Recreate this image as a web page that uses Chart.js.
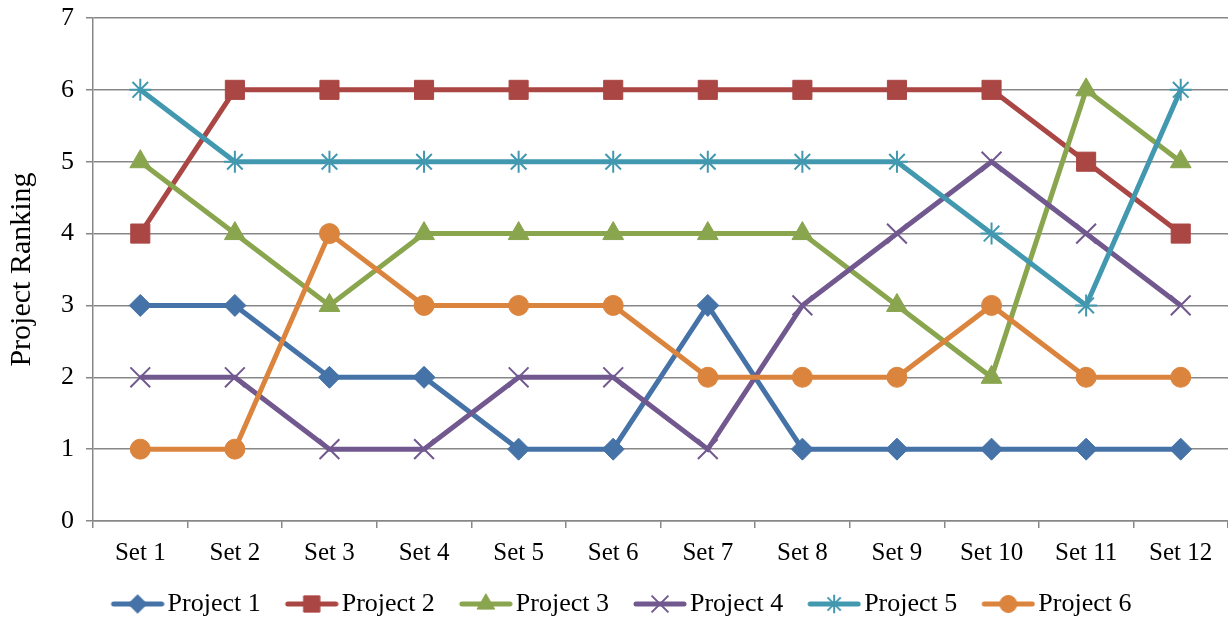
<!DOCTYPE html>
<html>
<head>
<meta charset="utf-8">
<script src="https://cdn.jsdelivr.net/npm/chart.js@4/dist/chart.umd.min.js"></script>
<style>
  html, body { margin: 0; padding: 0; background: #fff; }
  #wrap { width: 1228px; height: 627px; position: relative; }
</style>
</head>
<body>
<div id="wrap"><canvas id="chart"></canvas></div>
<script>
const labels = ["Set 1", "Set 2", "Set 3", "Set 4", "Set 5", "Set 6", "Set 7", "Set 8", "Set 9", "Set 10", "Set 11", "Set 12"];
const project1 = [3, 3, 2, 2, 1, 1, 3, 1, 1, 1, 1, 1];
const project2 = [4, 6, 6, 6, 6, 6, 6, 6, 6, 6, 5, 4];
const project3 = [5, 4, 3, 4, 4, 4, 4, 4, 3, 2, 6, 5];
const project4 = [2, 2, 1, 1, 2, 2, 1, 3, 4, 5, 4, 3];
const project5 = [6, 5, 5, 5, 5, 5, 5, 5, 5, 4, 3, 6];
const project6 = [1, 1, 4, 3, 3, 3, 2, 2, 2, 3, 2, 2];

const fontFamily = "'Liberation Serif', 'Times New Roman', serif";
const gridColor = "#878787";

const series = [
  { name: "Project 1", data: project1, color: "#4572A7", style: "rectRot", radius: 11, bw: 1 },
  { name: "Project 2", data: project2, color: "#AA4643", style: "rect", radius: 13.5, bw: 1 },
  { name: "Project 3", data: project3, color: "#89A54E", style: "triangle", radius: 12, bw: 1 },
  { name: "Project 4", data: project4, color: "#71588F", style: "crossRot", radius: 14, bw: 2 },
  { name: "Project 5", data: project5, color: "#4198AF", style: "star", radius: 11, bw: 2 },
  { name: "Project 6", data: project6, color: "#DB843D", style: "circle", radius: 10, bw: 1 }
];

// legend swatch: short line with the marker in the middle
function drawIcon(s) {
  const c = document.createElement("canvas");
  c.width = 78;
  c.height = 30;
  const ctx = c.getContext("2d");
  ctx.strokeStyle = s.color;
  ctx.fillStyle = s.color;
  ctx.lineWidth = 5;
  ctx.lineCap = "round";
  ctx.beginPath();
  ctx.moveTo(27, 15);
  ctx.lineTo(75, 15);
  ctx.stroke();
  ctx.lineWidth = s.bw;
  ctx.lineCap = "butt";
  Chart.helpers.drawPoint(ctx, { pointStyle: s.style, radius: s.radius * 0.85, rotation: 0, borderWidth: s.bw }, 51, 15);
  return c;
}

const icons = series.map(drawIcon);

const datasets = series.map((s, i) => ({
  label: s.name,
  data: s.data,
  borderColor: s.color,
  backgroundColor: s.color,
  borderWidth: 5,
  pointStyle: s.style,
  pointRadius: s.radius,
  pointHoverRadius: s.radius,
  pointBorderWidth: s.bw,
  pointBackgroundColor: s.color,
  pointBorderColor: s.color,
  tension: 0,
  clip: false,
  order: 6 - i
}));

new Chart(document.getElementById("chart"), {
  type: "line",
  data: { labels: labels, datasets: datasets },
  options: {
    responsive: true,
    maintainAspectRatio: false,
    animation: false,
    layout: { autoPadding: false, padding: { top: 18, right: 0, bottom: 0, left: 0 } },
    plugins: {
      tooltip: { enabled: false },
      legend: {
        position: "bottom",
        labels: {
          font: { family: fontFamily, size: 26 },
          color: "#000",
          usePointStyle: true,
          pointStyleWidth: 58,
          padding: 10,
          generateLabels: (chart) => series.map((s, i) => ({
            text: s.name,
            pointStyle: icons[i],
            fillStyle: s.color,
            strokeStyle: s.color,
            lineWidth: 0,
            hidden: false,
            datasetIndex: i,
            fontColor: "#000"
          }))
        }
      }
    },
    scales: {
      x: {
        offset: true,
        grid: {
          offset: true,
          drawOnChartArea: false,
          drawTicks: true,
          tickLength: 7,
          color: gridColor,
          lineWidth: 1.5
        },
        border: { color: gridColor, width: 1.5 },
        ticks: {
          font: { family: fontFamily, size: 25 },
          color: "#000",
          padding: 10,
          maxRotation: 0,
          autoSkip: false
        },
        afterFit: (scale) => {
          scale.height = 60;
          scale.paddingLeft = 0;
          scale.paddingRight = 0;
        }
      },
      y: {
        min: 0,
        max: 7,
        ticks: {
          stepSize: 1,
          font: { family: fontFamily, size: 26 },
          color: "#000",
          padding: 12
        },
        grid: {
          color: gridColor,
          lineWidth: 1.5,
          drawTicks: true,
          tickLength: 7
        },
        border: { color: gridColor, width: 1.5 },
        title: {
          display: true,
          text: "Project Ranking",
          font: { family: fontFamily, size: 30 },
          color: "#000",
          padding: { top: 4, bottom: 4 }
        },
        afterFit: (scale) => {
          scale.width = 93;
          scale.paddingTop = 0;
          scale.paddingBottom = 0;
        }
      }
    }
  }
});
</script>
</body>
</html>
